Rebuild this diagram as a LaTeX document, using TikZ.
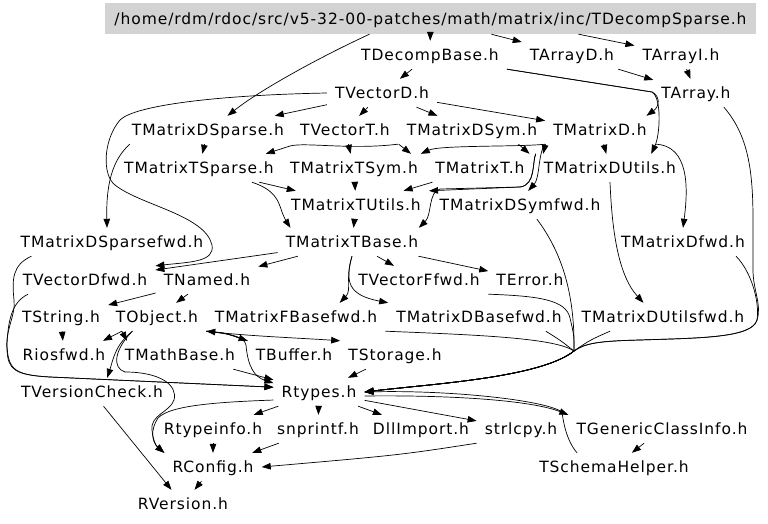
\documentclass[tikz,border=0pt]{standalone}
\usepackage{fontspec}
\newfontfamily\incfont{DejaVu Sans}[LetterSpace=6]
\usetikzlibrary{arrows.meta}
\definecolor{rootgray}{RGB}{211,211,211}
\tikzset{
  hfile/.style={font=\incfont\fontsize{15.5}{18}\selectfont, inner xsep=8pt, inner ysep=0pt,
    text height=11.3pt, text depth=0pt, minimum height=28pt},
  dep/.style={-{Triangle[length=9pt,width=6.5pt]}, line width=0.7pt},
}
\begin{document}
\begin{tikzpicture}[x=1pt,y=-1pt]
\useasboundingbox (0,0) rectangle (768,524);

% files
\node[hfile, fill=rootgray, minimum width=651pt, minimum height=31pt] (root) at (430.5,18.5) {/home/rdm/rdoc/src/v5-32-00-patches/math/matrix/inc/TDecompSparse.h};
\node[hfile] (tdecompbase) at (430,55) {TDecompBase.h};
\node[hfile] (tarrayd) at (572,55) {TArrayD.h};
\node[hfile] (tarrayi) at (681,55) {TArrayI.h};
\node[hfile] (tvectord) at (382,93) {TVectorD.h};
\node[hfile] (tarray) at (696,93) {TArray.h};
\node[hfile] (tmatrixdsparse) at (208,130) {TMatrixDSparse.h};
\node[hfile] (tvectort) at (345,130) {TVectorT.h};
\node[hfile] (tmatrixdsym) at (472,130) {TMatrixDSym.h};
\node[hfile] (tmatrixd) at (600,130) {TMatrixD.h};
\node[hfile] (tmatrixtsparse) at (199,168) {TMatrixTSparse.h};
\node[hfile] (tmatrixtsym) at (354,168) {TMatrixTSym.h};
\node[hfile] (tmatrixt) at (480,168) {TMatrixT.h};
\node[hfile] (tmatrixdutils) at (610,168) {TMatrixDUtils.h};
\node[hfile] (tmatrixtutils) at (356,205) {TMatrixTUtils.h};
\node[hfile] (tmatrixdsymfwd) at (520,205) {TMatrixDSymfwd.h};
\node[hfile] (tmatrixdsparsefwd) at (112,242) {TMatrixDSparsefwd.h};
\node[hfile] (tmatrixtbase) at (352,242) {TMatrixTBase.h};
\node[hfile] (tmatrixdfwd) at (683,242) {TMatrixDfwd.h};
\node[hfile] (tvectordfwd) at (85,280) {TVectorDfwd.h};
\node[hfile] (tnamed) at (207,280) {TNamed.h};
\node[hfile] (tvectorffwd) at (419,280) {TVectorFfwd.h};
\node[hfile] (terror) at (530,280) {TError.h};
\node[hfile] (tstring) at (61,317) {TString.h};
\node[hfile] (tobject) at (157,317) {TObject.h};
\node[hfile] (tmatrixfbasefwd) at (296,317) {TMatrixFBasefwd.h};
\node[hfile] (tmatrixdbasefwd) at (479,317) {TMatrixDBasefwd.h};
\node[hfile] (tmatrixdutilsfwd) at (663,317) {TMatrixDUtilsfwd.h};
\node[hfile] (riosfwd) at (64,355) {Riosfwd.h};
\node[hfile] (tmathbase) at (180,355) {TMathBase.h};
\node[hfile] (tbuffer) at (294,355) {TBuffer.h};
\node[hfile] (tstorage) at (395,355) {TStorage.h};
\node[hfile] (tversioncheck) at (92,392) {TVersionCheck.h};
\node[hfile] (rtypes) at (319,392) {Rtypes.h};
\node[hfile] (rtypeinfo) at (213,429) {Rtypeinfo.h};
\node[hfile] (snprintf) at (318,429) {snprintf.h};
\node[hfile] (dllimport) at (421,429) {DllImport.h};
\node[hfile] (strlcpy) at (521,429) {strlcpy.h};
\node[hfile] (tgenericclassinfo) at (662,429) {TGenericClassInfo.h};
\node[hfile] (rconfig) at (213,467) {RConfig.h};
\node[hfile] (tschemahelper) at (614,467) {TSchemaHelper.h};
\node[hfile] (rversion) at (183,504) {RVersion.h};

% includes
\draw[dep] (root) -- (tdecompbase);
\draw[dep] (root) -- (tarrayd);
\draw[dep] ([xshift=148pt]root.south) -- (tarrayi);
\draw[dep] ([xshift=-61pt]root.south) .. controls (320,57) and (260,90) .. (tmatrixdsparse.36);
\draw[dep] (tdecompbase) -- (tvectord);
\draw[dep] (tdecompbase.south east) -- (652,92) .. controls (660,96) and (660,106) .. (tmatrixd.17);
\draw[dep] (tdecompbase.south east) -- (652,92) .. controls (662,98) and (660,135) .. (tmatrixdutils.19);
\draw[dep] (tarrayd) -- (tarray);
\draw[dep] (tarrayi) -- (tarray);
\draw[dep] (tvectord) -- (tmatrixdsparse);
\draw[dep] (tvectord) -- (tvectort);
\draw[dep] (tvectord) -- (tmatrixdsym);
\draw[dep] (tvectord) -- (tmatrixd);
\draw[dep] (tvectord.west) .. controls (220,95) and (135,105) .. (120,120)
  .. controls (103,140) and (102,175) .. (115,185)
  .. controls (140,205) and (205,215) .. (212,245)
  .. controls (215,262) and (190,262) .. (tvectordfwd.north east);
\draw[dep] ([xshift=6pt]tmatrixdsparse.south west) .. controls (112,160) and (106,185) .. ([xshift=-5pt]tmatrixdsparsefwd.north);
\draw[dep] (tmatrixdsparse) -- (tmatrixtsparse);
\draw[dep] (tvectort) -- (tmatrixtsym);
\draw[dep] (tvectort.south east) .. controls (350,150) and (305,142) .. (290,146) -- (tmatrixtsparse.12);
\draw[dep] (tmatrixdsym.south west) -- (tmatrixtsym.14);
\draw[dep] (tmatrixd.south west) .. controls (520,147) and (440,145) .. (tmatrixtsym.12);
\draw[dep] (tmatrixdsym.-17) -- (tmatrixt.16);
\draw[dep] (tmatrixdsym.south east) -- (tmatrixdutils.168);
\draw[dep] (tmatrixd) -- (tmatrixdutils);
\draw[dep] (tmatrixdsym.south east) .. controls (538,152) and (540,178) .. (tmatrixdsymfwd.60);
\draw[dep] (tmatrixdutils.north west) .. controls (532,162) and (536,185) .. (520,187) -- (tmatrixtutils.north east);
\draw[dep] (tmatrixdutils.north west) .. controls (532,162) and (536,185) .. (520,187) -- (440,189)
  .. controls (428,192) and (432,215) .. (tmatrixtbase.12);
\draw[dep] (tmatrixtsparse) -- (tmatrixtutils);
\draw[dep] (tmatrixtsparse.-15) .. controls (275,190) and (278,200) .. (282,212)
  .. controls (285,220) and (288,224) .. (tmatrixtbase.167);
\draw[dep] (tmatrixtsym) -- (tmatrixtutils);
\draw[dep] (tmatrixt) -- (tmatrixtutils);
\draw[dep] (tmatrixtutils) -- (tmatrixtbase);
\draw[dep] (tmatrixdutils.south) .. controls (612,230) and (618,275) .. (tmatrixdutilsfwd.144);
\draw[dep] (tmatrixd.south east) .. controls (690,145) and (688,190) .. (tmatrixdfwd.north);
\draw[dep] (tmatrixtbase) -- (tvectordfwd);
\draw[dep] (tmatrixtbase) -- (tnamed);
\draw[dep] (tmatrixtbase) -- (tvectorffwd);
\draw[dep] (tmatrixtbase) -- (terror);
\draw[dep] (tmatrixtbase.south) .. controls (345,278) and (352,290) .. (tmatrixfbasefwd.18);
\draw[dep] (tmatrixtbase.south) .. controls (345,282) and (348,295) .. (tmatrixdbasefwd.north west);

% into Rtypes.h from the right
\draw[dep] (tmatrixdsymfwd.-40) .. controls (560,250) and (575,290) .. (574,351)
  .. controls (540,378) and (430,384) .. (rtypes.east);
\draw[dep] (terror.south west) .. controls (540,296) and (566,300) .. (570,318)
  .. controls (574,335) .. (574,351) .. controls (540,378) and (430,384) .. (rtypes.east);
\draw[dep] (tmatrixfbasefwd.south east) .. controls (480,335) and (555,338) .. (574,351)
  .. controls (540,378) and (430,384) .. (rtypes.east);
\draw[dep] (tmatrixdbasefwd.-12) .. controls (560,340) .. (574,351)
  .. controls (540,378) and (430,384) .. (rtypes.east);
\draw[dep] (tmatrixdutilsfwd.-165) .. controls (590,340) .. (574,351)
  .. controls (540,378) and (430,384) .. (rtypes.east);
\draw[dep] (tmatrixdfwd.-15) .. controls (750,270) and (760,300) .. (757,320)
  .. controls (752,338) and (700,338) .. (640,340) .. controls (600,341) and (585,343) .. (574,351)
  .. controls (540,378) and (430,384) .. (rtypes.east);
\draw[dep] (tarray.-27) .. controls (748,135) and (753,170) .. (753,220) -- (753,270)
  .. controls (753,290) and (762,305) .. (757,320)
  .. controls (752,338) and (700,338) .. (640,340) .. controls (600,341) and (585,343) .. (574,351)
  .. controls (540,378) and (430,384) .. (rtypes.east);

% into Rtypes.h from the left
\draw[dep] (tmatrixdsparsefwd.-170) .. controls (12,265) and (12,280) .. (14,300)
  .. controls (16,315) and (5,330) .. (7,350) .. controls (8,370) and (15,375) .. (50,377) -- (rtypes.174);
\draw[dep] (tvectordfwd.-166) .. controls (12,302) and (8,320) .. (7,345)
  .. controls (8,370) and (15,375) .. (50,377) -- (rtypes.174);

\draw[dep] (tnamed) -- (tstring);
\draw[dep] (tnamed) -- (tobject);
\draw[dep] (tstring) -- (riosfwd);
\draw[dep] (tobject.-158) -- (riosfwd.20);
\draw[dep] (tobject.-158) -- (tmathbase.165);
\draw[dep] (tobject.-150) .. controls (115,345) and (113,360) .. (tversioncheck.43);
\draw[dep] (tobject.-150) .. controls (114,350) and (112,368) .. (125,372)
  .. controls (160,372) and (178,385) .. (174,400)
  .. controls (170,412) and (150,415) .. (152,430)
  .. controls (153,440) and (156,446) .. (rconfig.north west);
\draw[dep] (tobject.south east) .. controls (245,336) and (300,338) .. (tstorage.north west);
\draw[dep] (tobject.south east) .. controls (225,333) .. (tbuffer.north west);
\draw[dep] (tbuffer.north west) .. controls (225,333) .. (tobject.south east);
\draw[dep] (tobject.south east) .. controls (230,334) and (244,336) .. (246,345)
  .. controls (248,368) and (255,377) .. (rtypes.169);
\draw[dep] (tmathbase) -- (rtypes);
\draw[dep] (tstorage) -- (rtypes);
\draw[dep] (rtypes) -- (rtypeinfo);
\draw[dep] (rtypes) -- (snprintf);
\draw[dep] (rtypes) -- (dllimport);
\draw[dep] (rtypes) -- (strlcpy);
\draw[dep] (rtypes.-5) .. controls (450,395) and (530,400) .. (tgenericclassinfo.north west);
\draw[dep] (rtypes.-170) .. controls (220,402) and (170,405) .. (158,418)
  .. controls (150,430) and (152,442) .. (rconfig.north west);
\draw[dep] (tgenericclassinfo) -- (tschemahelper);
\draw[dep] (tschemahelper.159) .. controls (566,440) and (563,420) .. (562,412)
  .. controls (545,400) and (450,390) .. (rtypes.east);
\draw[dep] (strlcpy.south west) .. controls (400,455) .. (rconfig.east);
\draw[dep] (snprintf) -- (rconfig);
\draw[dep] (rtypeinfo) -- (rconfig);
\draw[dep] (rconfig) -- (rversion);
\draw[dep] (tversioncheck) -- (rversion);
\end{tikzpicture}
\end{document}
